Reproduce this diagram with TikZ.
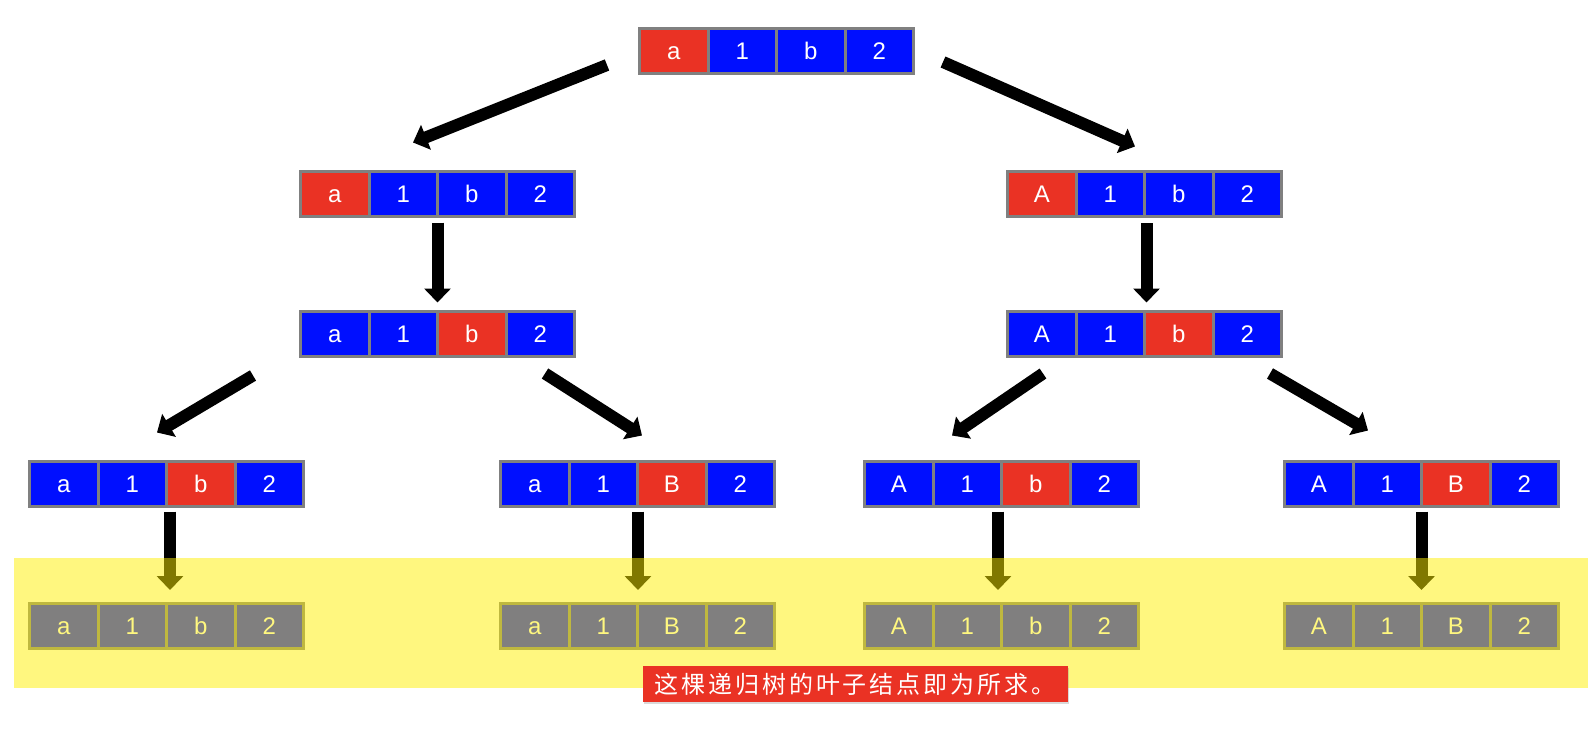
\documentclass[tikz,border=0pt]{standalone}
\usepackage{fontspec}
\setmainfont{Liberation Sans}
\newfontfamily\cjk[LetterSpace=12]{Noto Sans CJK SC}
\usepackage{tikz}
\usetikzlibrary{positioning,arrows.meta,shadows}
\definecolor{cellred}{RGB}{234,50,36}
\definecolor{cellblue}{RGB}{0,15,255}
\definecolor{cellgray}{RGB}{128,128,128}
\definecolor{hilite}{RGB}{255,240,0}

\begin{document}
\begin{tikzpicture}[x=1pt,y=-1pt,
	cell/.style={draw=cellgray,line width=3pt,fill=cellblue,text=white,minimum width=68.5pt,minimum height=45pt,inner sep=0pt,outer sep=0pt,text height=17.5pt,text depth=0pt,font=\fontsize{24}{28}\selectfont},
	pick/.style={cell,fill=cellred},
	bigarrow/.style={line width=12pt,-{Triangle[width=26pt,length=14pt]}}]
		\useasboundingbox (0,0) rectangle (1588,742);
		% top
		\node[pick,anchor=west] (top1) at (639.5,51) {a};
		\node[cell,right=0pt of top1] (top2) {1};
		\node[cell,right=0pt of top2] (top3) {b};
		\node[cell,right=0pt of top3] (top4) {2};
		% level one
		\node[pick,anchor=west] (lo1) at (300.5,193.5) {a};
		\node[cell,right=0pt of lo1] (lo2) {1};
		\node[cell,right=0pt of lo2] (lo3) {b};
		\node[cell,right=0pt of lo3] (lo4) {2};
		\node[pick,anchor=west] (ro1) at (1007.5,193.5) {A};
		\node[cell,right=0pt of ro1] (ro2) {1};
		\node[cell,right=0pt of ro2] (ro3) {b};
		\node[cell,right=0pt of ro3] (ro4) {2};
		% level two
		\node[cell,anchor=west] (lt1) at (300.5,333.5) {a};
		\node[cell,right=0pt of lt1] (lt2) {1};
		\node[pick,right=0pt of lt2] (lt3) {b};
		\node[cell,right=0pt of lt3] (lt4) {2};
		\node[cell,anchor=west] (rt1) at (1007.5,333.5) {A};
		\node[cell,right=0pt of rt1] (rt2) {1};
		\node[pick,right=0pt of rt2] (rt3) {b};
		\node[cell,right=0pt of rt3] (rt4) {2};
		% level three
		\node[cell,anchor=west] (ll1) at (29.5,483.5) {a};
		\node[cell,right=0pt of ll1] (ll2) {1};
		\node[pick,right=0pt of ll2] (ll3) {b};
		\node[cell,right=0pt of ll3] (ll4) {2};
		\node[cell,anchor=west] (lr1) at (500.5,483.5) {a};
		\node[cell,right=0pt of lr1] (lr2) {1};
		\node[pick,right=0pt of lr2] (lr3) {B};
		\node[cell,right=0pt of lr3] (lr4) {2};
		\node[cell,anchor=west] (rl1) at (864.5,483.5) {A};
		\node[cell,right=0pt of rl1] (rl2) {1};
		\node[pick,right=0pt of rl2] (rl3) {b};
		\node[cell,right=0pt of rl3] (rl4) {2};
		\node[cell,anchor=west] (rr1) at (1284.5,483.5) {A};
		\node[cell,right=0pt of rr1] (rr2) {1};
		\node[pick,right=0pt of rr2] (rr3) {B};
		\node[cell,right=0pt of rr3] (rr4) {2};
		% leaves
		\node[cell,anchor=west] (llf1) at (29.5,625.5) {a};
		\node[cell,right=0pt of llf1] (llf2) {1};
		\node[cell,right=0pt of llf2] (llf3) {b};
		\node[cell,right=0pt of llf3] (llf4) {2};
		\node[cell,anchor=west] (lrf1) at (500.5,625.5) {a};
		\node[cell,right=0pt of lrf1] (lrf2) {1};
		\node[cell,right=0pt of lrf2] (lrf3) {B};
		\node[cell,right=0pt of lrf3] (lrf4) {2};
		\node[cell,anchor=west] (rlf1) at (864.5,625.5) {A};
		\node[cell,right=0pt of rlf1] (rlf2) {1};
		\node[cell,right=0pt of rlf2] (rlf3) {b};
		\node[cell,right=0pt of rlf3] (rlf4) {2};
		\node[cell,anchor=west] (rrf1) at (1284.5,625.5) {A};
		\node[cell,right=0pt of rrf1] (rrf2) {1};
		\node[cell,right=0pt of rrf2] (rrf3) {B};
		\node[cell,right=0pt of rrf3] (rrf4) {2};
		% arrows
		\draw[bigarrow] ([shift={(-32.5,14)}]top1.west) -- ([shift={(9.75,-28.5)}]lo2.north);
		\draw[bigarrow] ([shift={(29.5,11)}]top4.east) -- ([shift={(-43.75,-24.5)}]ro3.north);
		\draw[bigarrow] ([shift={(0,6.5)}]lo2.south east) -- ([shift={(0,-8.5)}]lt2.north east);
		\draw[bigarrow] ([shift={(2,7)}]ro2.south east) -- ([shift={(2,-8.5)}]rt2.north east);
		\draw[bigarrow] ([shift={(-81.75,19.5)}]lt1.south) -- ([shift={(24.75,-28.5)}]ll2.north);
		\draw[bigarrow] ([shift={(4.75,17.5)}]lt4.south) -- ([shift={(-29.75,-25.5)}]lr3.north);
		\draw[bigarrow] ([shift={(1.25,17.5)}]rt1.south) -- ([shift={(-15.25,-25.5)}]rl2.north);
		\draw[bigarrow] ([shift={(22.75,17.5)}]rt4.south) -- ([shift={(-19.25,-30.5)}]rr2.north);
		\draw[bigarrow] ([shift={(3.5,5.5)}]ll2.south east) -- ([shift={(3.5,-13)}]llf2.north east);
		\draw[bigarrow] ([shift={(0.5,5.5)}]lr2.south east) -- ([shift={(0.5,-13)}]lrf2.north east);
		\draw[bigarrow] ([shift={(-3.5,5.5)}]rl2.south east) -- ([shift={(-3.5,-13)}]rlf2.north east);
		\draw[bigarrow] ([shift={(0,5.5)}]rr2.south east) -- ([shift={(0,-13)}]rrf2.north east);
		% highlight band
		\fill[hilite,opacity=.5] (14,558) rectangle (1588,688);
		\node[fill=cellred,text=white,minimum width=425pt,minimum height=36pt,inner sep=0pt,drop shadow={opacity=.3,shadow xshift=1.5pt,shadow yshift=-2pt},font=\cjk\fontsize{24}{28}\selectfont] (note) at (855,684) {这棵递归树的叶子结点即为所求。};
	\end{tikzpicture}
\end{document}
